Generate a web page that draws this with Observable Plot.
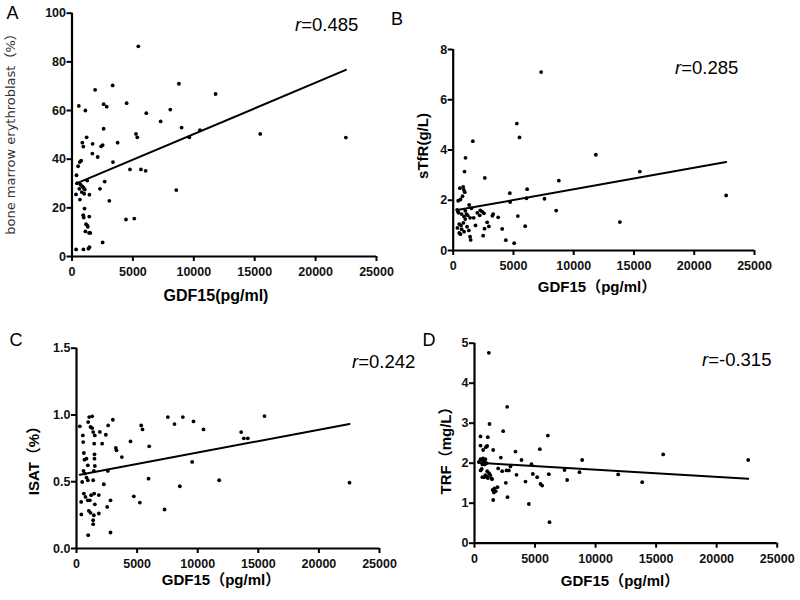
<!DOCTYPE html>
<html><head><meta charset="utf-8">
<script src="https://cdn.jsdelivr.net/npm/d3@7"></script>
<script src="https://cdn.jsdelivr.net/npm/@observablehq/plot@0.6"></script>
<style>
body{margin:0;background:#fff;}
#wrap{position:relative;width:800px;height:600px;overflow:hidden;background:#fff;}
.panel{position:absolute;}
.panel svg text{font-weight:bold;}
.t{position:absolute;white-space:nowrap;line-height:1;transform:translate(-50%,-50%);color:#000;font-family:"Liberation Sans",Arial,"Noto Sans CJK SC",sans-serif;}
</style>
</head><body>
<div id="wrap"></div>
<script>
// ---- data (GDF15 pg/ml vs. marker) ----
const xTicks = [0, 5000, 10000, 15000, 20000, 25000];

const erythroblast = [[5443,86.4],[3337,70.3],[8780,71],[1900,68.5],[11789,66.8],[560,61.9],[1100,60],[2598,62.6],[2850,61.6],[4486,63],[6100,58.9],[8069,60.4],[7276,55.5],[9000,53],[10503,51.9],[9628,49],[5252,50.4],[5361,49],[15454,50.4],[22484,48.9],[2598,52.5],[1200,49],[850,46.8],[930,45.2],[1690,46.3],[2390,45.3],[2520,45.8],[3747,46.8],[1670,42.3],[2110,40.9],[3364,38.8],[4760,35.8],[5662,35.8],[6045,35.2],[8561,27.3],[2680,30.8],[2297,27.8],[3063,22.9],[4431,15.2],[5115,15.6],[2516,5.8],[505,37.1],[640,38.8],[750,39.4],[370,33.4],[1250,31.2],[430,30.1],[700,29.5],[850,28.8],[950,28.3],[1050,27.5],[600,27.8],[800,26.5],[1000,25.8],[330,25.5],[1430,25.4],[650,23.4],[1030,19.7],[920,17],[970,16],[1420,16.4],[1150,13.3],[1250,12.8],[1300,12.2],[1100,10.3],[1400,9.7],[1500,9.7],[340,2.9],[940,2.9],[1350,3.2],[1430,3.8]];
const stfr = [[7299,7.10],[5280,5.05],[5501,4.50],[1629,4.35],[11835,3.81],[1020,3.69],[937,3.14],[2624,2.89],[8765,2.78],[6136,2.44],[4699,2.28],[22649,2.19],[15486,3.14],[6080,2.08],[7573,2.06],[4726,1.93],[8544,1.59],[5364,1.37],[13826,1.13],[5972,0.97],[4064,0.86],[4367,0.41],[5059,0.29],[550,2.48],[827,2.53],[882,2.41],[965,2.32],[772,2.16],[605,2.03],[412,1.98],[330,1.62],[400,1.55],[440,1.50],[1325,1.81],[1518,1.68],[1000,1.58],[1100,1.45],[700,1.45],[900,1.35],[1200,1.40],[1400,1.30],[1700,1.30],[2000,1.50],[2250,1.60],[2400,1.55],[2550,1.48],[2200,1.40],[500,1.05],[650,1.00],[850,1.10],[700,0.85],[900,0.75],[1300,0.80],[1400,0.55],[1450,0.42],[1150,0.95],[500,0.70],[1850,1.00],[2485,0.59],[2600,0.87],[2817,1.12],[2960,0.96],[3317,1.45],[3250,1.38],[3730,1.32],[600,0.65],[350,0.90],[1000,1.25]];
const isat = [[15512,0.992],[7536,0.984],[8774,0.984],[9653,0.952],[8086,0.932],[5336,0.922],[5446,0.892],[10479,0.892],[2998,0.964],[2613,0.922],[2420,0.852],[4455,0.802],[3245,0.753],[3300,0.735],[3740,0.685],[5996,0.765],[13586,0.872],[13806,0.825],[14136,0.825],[9543,0.648],[2585,0.581],[5941,0.523],[8526,0.466],[11771,0.511],[22525,0.493],[2255,0.481],[2805,0.361],[2530,0.311],[4730,0.391],[5226,0.344],[7261,0.292],[2805,0.120],[275,0.915],[523,0.847],[550,0.797],[605,0.715],[660,0.665],[825,0.673],[935,0.623],[578,0.581],[688,0.561],[825,0.531],[935,0.511],[468,0.498],[605,0.411],[743,0.386],[385,0.349],[935,0.361],[1100,0.361],[1210,0.399],[400,0.255],[1018,0.282],[1155,0.267],[963,0.100],[1045,0.984],[963,0.947],[1155,0.91],[1293,0.902],[1513,0.847],[1375,0.872],[1925,0.873],[1458,0.785],[1485,0.705],[1485,0.673],[1513,0.618],[1430,0.581],[1375,0.511],[1458,0.411],[1513,0.331],[1430,0.249],[1375,0.212],[1375,0.182],[1843,0.262],[2117,0.785],[1840,0.40],[1293,0.99]];
const trf = [[1184,4.76],[2698,3.41],[1239,2.98],[2368,2.80],[6057,2.69],[496,2.67],[1101,2.65],[496,2.44],[1542,2.33],[936,2.40],[1046,2.43],[3387,2.29],[5396,2.35],[15584,2.22],[2175,2.14],[3882,2.08],[8893,2.08],[22605,2.08],[4708,1.975],[2974,1.92],[1955,1.87],[2643,1.82],[2836,1.82],[2285,1.80],[6140,1.725],[3469,1.71],[4818,1.73],[5176,1.65],[7434,1.83],[8673,1.775],[11867,1.72],[7654,1.58],[4213,1.54],[5452,1.48],[5589,1.44],[13849,1.525],[2588,1.51],[1900,1.40],[1750,1.30],[1600,1.27],[1500,1.33],[1650,1.37],[1542,1.08],[2726,1.15],[4488,0.98],[6195,0.525],[716,2.33],[358,2.03],[500,2.10],[600,2.08],[700,2.12],[800,2.05],[900,2.10],[1000,2.00],[750,2.0],[650,1.97],[850,1.97],[600,1.86],[500,1.82],[1050,1.80],[1200,1.75],[900,1.70],[800,1.65],[1300,1.70],[1400,1.62],[1450,1.60],[1100,1.63],[650,1.65],[1000,1.67]];

// fitted regression lines (intercept, slope per pg/ml)
const fits = [
  {intercept: 29.23, slope: 0.002111},
  {intercept: 1.58, slope: 0.0000857},
  {intercept: 0.548, slope: 0.00001706},
  {intercept: 2.016, slope: -0.00001798}
];
const panelLetters = ["A", "B", "C", "D"];
const rValues = ["0.485", "0.285", "0.242", "-0.315"];
const xTitles = ["GDF15(pg/ml)", "GDF15（pg/ml）", "GDF15（pg/ml）", "GDF15（pg/ml）"];
const yTitles = ["bone marrow erythroblast（%）", "sTfR(g/L)", "ISAT（%）", "TRF（mg/L）"];
const yDomains = [[0, 100], [0, 8], [0, 1.5], [0, 5]];
const yTickSets = [[0, 20, 40, 60, 80, 100], [0, 2, 4, 6, 8], [0, 0.5, 1.0, 1.5], [0, 1, 2, 3, 4, 5]];

// ---- layout ----
const panels = [
  {data: erythroblast, left: 0, top: 0, m: [12.7, 24, 44, 71.5], fmt: d => String(d)},
  {data: stfr, left: 400, top: 0, m: [49, 46, 50, 52.7], fmt: d => String(d)},
  {data: isat, left: 0, top: 300, m: [47.7, 21, 52, 76], fmt: d3.format(".1f")},
  {data: trf, left: 400, top: 300, m: [42.7, 23.3, 57.3, 74], fmt: d => String(d)}
];

const wrap = document.getElementById("wrap");
panels.forEach((p, i) => {
  const xs = p.data.map(d => d[0]);
  const fit = fits[i];
  const fitLine = [d3.min(xs), d3.max(xs)].map(x => ({x, y: fit.intercept + fit.slope * x}));
  const chart = Plot.plot({
    width: 400, height: 300,
    marginTop: p.m[0], marginRight: p.m[1], marginBottom: p.m[2], marginLeft: p.m[3],
    x: {domain: [0, 25000]},
    y: {domain: yDomains[i]},
    style: {fontFamily: "Liberation Sans, Arial, sans-serif", fontSize: "12px", fontWeight: "bold", color: "#000", background: "transparent", overflow: "visible"},
    marks: [
      Plot.axisX({ticks: xTicks, tickSize: 5, tickPadding: 6, strokeWidth: 2, label: null, fontWeight: "bold", fontSize: 12.5, fill: "#111", tickFormat: d => String(d)}),
      Plot.axisY({ticks: yTickSets[i], tickSize: 5, tickPadding: 1, strokeWidth: 2, label: null, fontWeight: "bold", fontSize: 12.5, fill: "#111", tickFormat: p.fmt}),
      Plot.ruleX([0], {strokeWidth: 2.2}),
      Plot.ruleY([yDomains[i][0]], {strokeWidth: 2.2}),
      Plot.dot(p.data, {x: d => d[0], y: d => d[1], r: 1.9, fill: "#000", stroke: null}),
      Plot.line(fitLine, {x: "x", y: "y", stroke: "#000", strokeWidth: 2})
    ]
  });
  const div = document.createElement("div");
  div.className = "panel";
  div.style.left = p.left + "px";
  div.style.top = p.top + "px";
  div.appendChild(chart);
  wrap.appendChild(div);
});

// ---- text annotations ----
function addText(html, x, y, opts = {}) {
  const el = document.createElement("div");
  el.className = "t";
  el.innerHTML = html;
  el.style.left = x + "px";
  el.style.top = y + "px";
  el.style.fontSize = (opts.size || 15) + "px";
  el.style.fontWeight = opts.weight || "normal";
  if (opts.family) el.style.fontFamily = opts.family;
  if (opts.color) el.style.color = opts.color;
  if (opts.rotate) el.style.transform = "translate(-50%,-50%) rotate(-90deg)";
  if (opts.anchorLeft) el.style.transform = "translate(0,-50%)";
  wrap.appendChild(el);
}
const letterPos = [[12.5, 13], [397, 19], [16, 340], [429, 340]];
const rPos = [[295, 25], [675, 67.5], [352, 362], [702, 359.5]];
const xTitlePos = [[216, 296], [597, 286], [221, 579], [620, 580]];
const yTitlePos = [[10, 131], [422, 146], [33, 457], [445, 447]];
panelLetters.forEach((t, i) => addText(t, letterPos[i][0], letterPos[i][1], {size: 18}));
rValues.forEach((t, i) => addText("<i>r</i>=" + t, rPos[i][0], rPos[i][1], {size: 18.5, anchorLeft: true}));
xTitles.forEach((t, i) => addText(t, xTitlePos[i][0], xTitlePos[i][1], {size: i === 0 ? 16 : 15, weight: "bold"}));
yTitles.forEach((t, i) => addText(t, yTitlePos[i][0], yTitlePos[i][1],
  i === 0 ? {size: 13, rotate: true, family: "DejaVu Sans, Noto Sans CJK SC, sans-serif", color: "#333"}
          : {size: 15, weight: "bold", rotate: true}));
</script>
</body></html>
